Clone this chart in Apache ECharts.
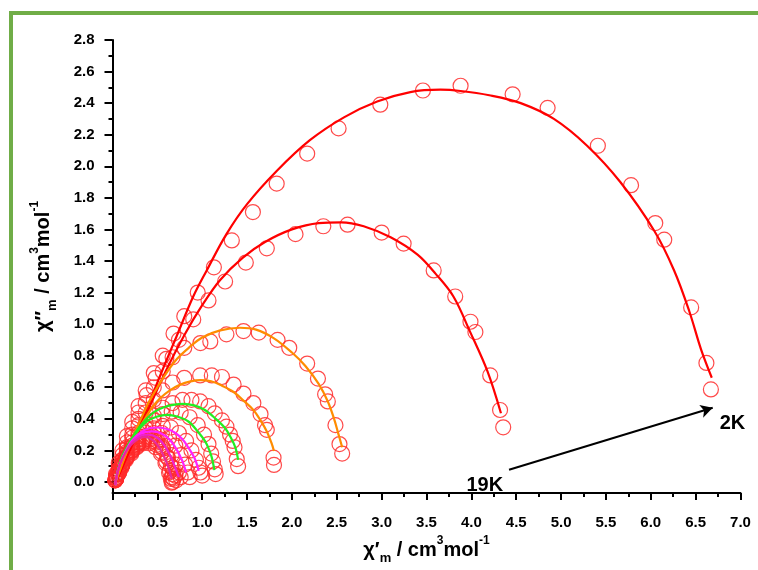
<!DOCTYPE html>
<html>
<head>
<meta charset="utf-8">
<script src="https://cdn.jsdelivr.net/npm/echarts@6/dist/echarts.min.js"></script>
<style>
  html, body { margin: 0; padding: 0; background: #ffffff; }
  #chart { width: 758px; height: 570px; }
</style>
</head>
<body>
<div id="chart"></div>
<script>
// Cole-Cole plot: χ''m versus χ'm, measured points (open circles) and generalized Debye fits (lines)

const xTicks = [0, 0.5, 1, 1.5, 2, 2.5, 3, 3.5, 4, 4.5, 5, 5.5, 6, 6.5, 7];
const yTicks = [0, 0.2, 0.4, 0.6, 0.8, 1.0, 1.2, 1.4, 1.6, 1.8, 2.0, 2.2, 2.4, 2.6, 2.8];
const yMinorTicks = [0.1, 0.3, 0.5, 0.7, 0.9, 1.1, 1.3, 1.5, 1.7, 1.9, 2.1, 2.3, 2.5, 2.7];

// measured data, [χ', χ'']
const data2K = [[0.04,0.05],[0.07,0.12],[0.11,0.2],[0.16,0.29],[0.22,0.38],[0.29,0.48],[0.37,0.58],[0.46,0.69],[0.56,0.80],[0.68,0.94],[0.80,1.05],[0.95,1.20],[1.13,1.36],[1.33,1.53],[1.565,1.71],[1.83,1.89],[2.17,2.08],[2.52,2.24],[2.985,2.39],[3.46,2.48],[3.88,2.51],[4.46,2.456],[4.85,2.37],[5.41,2.13],[5.78,1.88],[6.05,1.64],[6.15,1.535],[6.45,1.106],[6.62,0.754],[6.67,0.586]];
const data3K = [[0.04,0.04],[0.07,0.1],[0.11,0.17],[0.16,0.25],[0.22,0.34],[0.29,0.44],[0.38,0.55],[0.48,0.66],[0.60,0.78],[0.74,0.90],[0.90,1.03],[1.07,1.15],[1.255,1.27],[1.486,1.39],[1.72,1.48],[2.04,1.57],[2.35,1.62],[2.62,1.63],[3.00,1.58],[3.245,1.51],[3.58,1.34],[3.82,1.175],[3.99,1.015],[4.045,0.95],[4.21,0.675],[4.32,0.456],[4.355,0.346]];
const data4K = [[0.04,0.03],[0.07,0.08],[0.11,0.14],[0.16,0.22],[0.22,0.30],[0.29,0.40],[0.37,0.50],[0.46,0.60],[0.56,0.70],[0.67,0.79],[0.80,0.85],[0.98,0.88],[1.09,0.89],[1.27,0.935],[1.46,0.956],[1.63,0.946],[1.84,0.90],[1.97,0.85],[2.17,0.75],[2.29,0.655],[2.37,0.555],[2.40,0.51],[2.485,0.36],[2.53,0.24],[2.56,0.18]];
const data5K = [[0.04,0.03],[0.07,0.08],[0.11,0.14],[0.16,0.21],[0.22,0.28],[0.29,0.36],[0.37,0.44],[0.46,0.52],[0.56,0.58],[0.67,0.63],[0.80,0.66],[0.977,0.675],[1.107,0.675],[1.22,0.665],[1.35,0.617],[1.46,0.56],[1.57,0.50],[1.65,0.43],[1.70,0.36],[1.72,0.33],[1.795,0.154],[1.80,0.108]];
const data6K = [[0.04,0.02],[0.07,0.07],[0.11,0.13],[0.16,0.19],[0.22,0.25],[0.29,0.31],[0.37,0.37],[0.46,0.42],[0.56,0.47],[0.67,0.50],[0.78,0.52],[0.88,0.52],[0.977,0.51],[1.07,0.48],[1.14,0.435],[1.22,0.39],[1.27,0.35],[1.31,0.30],[1.34,0.26],[1.36,0.22],[1.385,0.145],[1.40,0.10]];
const data7K = [[0.04,0.02],[0.07,0.06],[0.11,0.12],[0.16,0.18],[0.22,0.23],[0.29,0.29],[0.37,0.34],[0.46,0.39],[0.56,0.43],[0.66,0.445],[0.76,0.44],[0.86,0.41],[0.95,0.36],[1.02,0.30],[1.07,0.24],[1.10,0.18],[1.12,0.13],[1.14,0.08],[1.15,0.05]];
const data8K = [[0.04,0.02],[0.07,0.06],[0.11,0.11],[0.16,0.17],[0.22,0.22],[0.29,0.27],[0.37,0.31],[0.46,0.34],[0.56,0.355],[0.65,0.345],[0.74,0.31],[0.82,0.26],[0.88,0.20],[0.93,0.14],[0.96,0.09],[0.98,0.06],[1.0,0.04]];
const data9K = [[0.04,0.02],[0.07,0.06],[0.11,0.11],[0.16,0.16],[0.22,0.21],[0.29,0.25],[0.37,0.29],[0.46,0.31],[0.55,0.31],[0.63,0.28],[0.70,0.23],[0.76,0.17],[0.81,0.11],[0.84,0.06],[0.86,0.03]];
const data10K = [[0.04,0.02],[0.07,0.06],[0.11,0.11],[0.16,0.16],[0.22,0.20],[0.29,0.25],[0.37,0.28],[0.45,0.29],[0.53,0.27],[0.60,0.23],[0.66,0.17],[0.71,0.11],[0.74,0.06],[0.76,0.03]];
const data11K = [[0.04,0.02],[0.07,0.06],[0.11,0.11],[0.16,0.16],[0.22,0.20],[0.29,0.24],[0.36,0.27],[0.43,0.28],[0.50,0.26],[0.56,0.22],[0.61,0.16],[0.65,0.10],[0.67,0.05],[0.68,0.02]];
const data13K = [[0.03,0.01],[0.06,0.05],[0.10,0.10],[0.15,0.15],[0.21,0.20],[0.28,0.24],[0.35,0.265],[0.42,0.27],[0.49,0.25],[0.56,0.21],[0.62,0.15],[0.67,0.09],[0.70,0.04],[0.71,0.01]];
const data16K = [[0.03,0.01],[0.06,0.05],[0.10,0.10],[0.15,0.15],[0.21,0.19],[0.28,0.23],[0.35,0.255],[0.42,0.255],[0.49,0.235],[0.55,0.19],[0.60,0.13],[0.64,0.07],[0.66,0.03],[0.67,0.0]];
const data19K = [[0.03,0.01],[0.06,0.05],[0.10,0.09],[0.15,0.14],[0.21,0.18],[0.27,0.22],[0.34,0.245],[0.41,0.245],[0.48,0.22],[0.54,0.18],[0.59,0.12],[0.63,0.06],[0.65,0.02],[0.66,-0.005]];

// fitted curves, [χ', χ'']
const fit2K = [[0.03,-0.01],[0.2,0.22],[0.4,0.49],[0.55,0.70],[0.716,0.925],[0.90,1.175],[1.05,1.34],[1.27,1.57],[1.50,1.76],[1.83,1.97],[2.20,2.165],[2.58,2.31],[2.95,2.41],[3.32,2.47],[3.655,2.485],[3.88,2.477],[4.2,2.45],[4.55,2.40],[4.92,2.30],[5.29,2.13],[5.66,1.90],[6.04,1.59],[6.26,1.34],[6.43,1.08],[6.56,0.84],[6.68,0.66]];
const fit3K = [[0.03,-0.01],[0.2,0.21],[0.4,0.46],[0.6,0.71],[0.8,0.93],[1.0,1.12],[1.2,1.28],[1.45,1.42],[1.7,1.52],[2.0,1.60],[2.3,1.64],[2.55,1.645],[2.8,1.62],[3.1,1.55],[3.4,1.44],[3.6,1.32],[3.8,1.175],[3.99,0.946],[4.18,0.70],[4.33,0.435]];
const fit4K = [[0.03,-0.01],[0.08,0.08],[0.15,0.18],[0.23,0.29],[0.31,0.39],[0.40,0.50],[0.50,0.60],[0.60,0.69],[0.72,0.78],[0.85,0.85],[1.0,0.915],[1.2,0.96],[1.42,0.977],[1.6,0.965],[1.8,0.91],[2.0,0.82],[2.15,0.735],[2.3,0.62],[2.4,0.51],[2.47,0.40],[2.52,0.30],[2.56,0.22]];
const fit5K = [[0.03,-0.01],[0.08,0.07],[0.16,0.19],[0.25,0.29],[0.34,0.38],[0.44,0.47],[0.53,0.53],[0.64,0.58],[0.75,0.615],[0.87,0.637],[0.98,0.645],[1.1,0.638],[1.22,0.61],[1.35,0.57],[1.46,0.515],[1.57,0.456],[1.65,0.39],[1.72,0.32],[1.77,0.25],[1.80,0.196]];
const fit6K = [[0.03,-0.02],[0.06,0.08],[0.14,0.196],[0.22,0.28],[0.29,0.34],[0.38,0.40],[0.47,0.446],[0.58,0.475],[0.69,0.49],[0.79,0.495],[0.91,0.485],[1.03,0.456],[1.15,0.40],[1.256,0.34],[1.32,0.28],[1.37,0.217],[1.40,0.14]];
const fit7K = [[0.03,-0.02],[0.06,0.07],[0.10,0.154],[0.17,0.23],[0.25,0.30],[0.32,0.35],[0.40,0.39],[0.50,0.415],[0.605,0.425],[0.72,0.415],[0.846,0.383],[0.95,0.32],[1.03,0.26],[1.08,0.20],[1.107,0.154],[1.136,0.075]];
const fit8K = [[0.03,-0.02],[0.06,0.07],[0.11,0.15],[0.215,0.26],[0.36,0.33],[0.51,0.345],[0.61,0.335],[0.70,0.31],[0.78,0.27],[0.846,0.217],[0.92,0.144],[0.96,0.07]];
const fit9K = [[0.03,-0.02],[0.06,0.07],[0.11,0.15],[0.2,0.24],[0.3,0.30],[0.44,0.32],[0.55,0.305],[0.65,0.26],[0.72,0.20],[0.78,0.13],[0.82,0.06]];
const fit10K = [[0.03,-0.02],[0.06,0.07],[0.11,0.15],[0.2,0.24],[0.3,0.29],[0.40,0.30],[0.50,0.28],[0.58,0.23],[0.65,0.16],[0.70,0.09],[0.74,0.03]];
const fit11K = [[0.03,-0.02],[0.06,0.07],[0.11,0.15],[0.2,0.23],[0.28,0.27],[0.36,0.285],[0.45,0.265],[0.53,0.21],[0.59,0.14],[0.63,0.08],[0.66,0.02]];

// temperature annotation: arrow from 19K towards 2K
const arrowFrom = [4.42, 0.077];
const arrowTo = [6.69, 0.47];
const tempLabels = ['19K', '2K'];
const tempLabelAt = [[4.15, -0.025], [6.91, 0.37]];

const font = 'Arial, "Liberation Sans", sans-serif';
const circleColor = '#ff2a2a';

const measured = [data2K, data3K, data4K, data5K, data6K, data7K, data8K, data9K, data10K, data11K, data13K, data16K, data19K];
const fits = [
  { d: fit2K, c: '#ff0000' },
  { d: fit3K, c: '#ff0000' },
  { d: fit4K, c: '#ff8c00' },
  { d: fit5K, c: '#ff8c00' },
  { d: fit6K, c: '#22ee22' },
  { d: fit7K, c: '#22ee22' },
  { d: fit8K, c: '#ff22ff' },
  { d: fit9K, c: '#ff22ff' },
  { d: fit10K, c: '#ee22cc' },
  { d: fit11K, c: '#e82a9a' }
];

const series = [];
measured.forEach((d) => {
  series.push({
    type: 'scatter',
    data: d,
    symbol: 'circle',
    symbolSize: 15,
    itemStyle: { color: 'rgba(0,0,0,0)', borderColor: circleColor, borderWidth: 1.2, opacity: 0.85 },
    silent: true,
    z: 2
  });
});
fits.forEach((f) => {
  series.push({
    type: 'line',
    data: f.d,
    smooth: 0.35,
    showSymbol: false,
    lineStyle: { color: f.c, width: 2.2 },
    silent: true,
    z: 3
  });
});

// arrow from the highest to the lowest temperature
series.push({
  type: 'scatter',
  data: [],
  silent: true,
  markLine: {
    silent: true,
    symbol: ['none', 'arrow'],
    symbolSize: [10, 12],
    lineStyle: { color: '#000', width: 2, type: 'solid' },
    label: { show: false },
    data: [[{ coord: arrowFrom }, { coord: arrowTo }]]
  }
});

// temperature labels at the arrow ends
series.push({
  type: 'scatter',
  silent: true,
  symbolSize: 0,
  itemStyle: { opacity: 1 },
  data: tempLabels.map((t, i) => ({ name: t, value: tempLabelAt[i] })),
  label: {
    show: true, position: 'inside', color: '#000000', fontFamily: font,
    fontWeight: 'bold', fontSize: 20, formatter: (p) => p.name
  },
  z: 5
});

const axisText = { fontFamily: font, fontWeight: 'bold', color: '#000' };
const nameRich = {
  a: { fontFamily: font, fontWeight: 'bold', fontSize: 20, color: '#000', lineHeight: 30 },
  s: { fontFamily: font, fontWeight: 'bold', fontSize: 13, color: '#000', lineHeight: 30, verticalAlign: 'bottom', padding: [10, 0, 0, 0] },
  p: { fontFamily: font, fontWeight: 'bold', fontSize: 12, color: '#000', lineHeight: 30, verticalAlign: 'top', padding: [0, 0, 4, 0] }
};

const option = {
  backgroundColor: '#ffffff',
  animation: false,
  grid: { left: 112.5, right: 17.5, top: 40, bottom: 71 },
  xAxis: {
    type: 'value',
    min: 0, max: 7, interval: 0.5,
    axisLine: { show: true, onZero: false, lineStyle: { color: '#000', width: 2 } },
    axisTick: { show: true, inside: false, length: 7, lineStyle: { color: '#000', width: 2 } },
    minorTick: { show: true, splitNumber: 2, length: 4, lineStyle: { color: '#000', width: 2 } },
    splitLine: { show: false },
    axisLabel: Object.assign({ fontSize: 15, margin: 22, formatter: (v) => v.toFixed(1), customValues: xTicks }, axisText),
    name: '{a|χ′}{s|m}{a| / cm}{p|3}{a|mol}{p|-1}',
    nameLocation: 'middle',
    nameGap: 42,
    nameTextStyle: { rich: nameRich }
  },
  yAxis: [
    {
      type: 'value',
      min: -0.07, max: 2.8,
      axisLine: { show: true, onZero: false, lineStyle: { color: '#000', width: 2 } },
      axisTick: { show: true, inside: false, length: 8, customValues: yTicks, lineStyle: { color: '#000', width: 2 } },
      splitLine: { show: false },
      axisLabel: Object.assign({ fontSize: 15, margin: 18, customValues: yTicks, formatter: (v) => v.toFixed(1) }, axisText),
      name: '{a|χ″}{s|m}{a| / cm}{p|3}{a|mol}{p|-1}',
      nameLocation: 'middle',
      nameGap: 54,
      nameRotate: 90,
      nameTextStyle: { rich: nameRich }
    },
    {
      type: 'value',
      position: 'left',
      min: -0.07, max: 2.8,
      axisLine: { show: false },
      axisTick: { show: true, inside: false, length: 4, customValues: yMinorTicks, lineStyle: { color: '#000', width: 2 } },
      axisLabel: { show: false, customValues: yMinorTicks },
      splitLine: { show: false }
    }
  ],
  graphic: [
    { type: 'rect', shape: { x: 9, y: 11, width: 749, height: 4 }, style: { fill: '#70ad47' }, silent: true },
    { type: 'rect', shape: { x: 9, y: 11, width: 4, height: 559 }, style: { fill: '#70ad47' }, silent: true }
  ],
  series: series
};

const chart = echarts.init(document.getElementById('chart'), null, { renderer: 'canvas' });
chart.setOption(option);
</script>
</body>
</html>
